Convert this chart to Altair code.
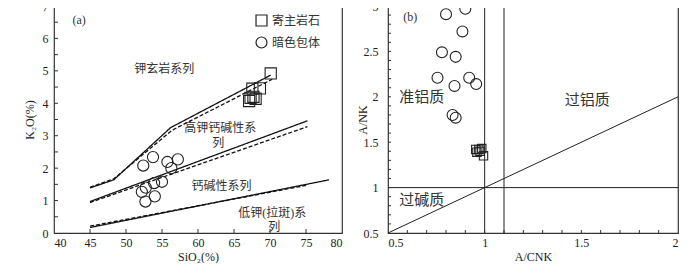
import altair as alt
import pandas as pd

FONT = "Liberation Serif, Noto Sans CJK SC"

# ---------------- Panel (a) data ----------------
host_sio2 = [70.1, 67.55, 68.6, 67.3, 68.0, 67.1, 67.7]
host_k2o = [4.92, 4.45, 4.46, 4.17, 4.14, 4.07, 4.2]
encl_sio2 = [52.4, 53.75, 55.75, 57.2, 56.3, 52.75, 53.9, 55.0, 52.2, 52.7, 54.0]
encl_k2o = [2.08, 2.34, 2.19, 2.27, 2.0, 1.40, 1.54, 1.58, 1.27, 0.97, 1.13]

line_id = ["s1", "s1", "s1", "s1", "s2", "s2", "s3", "s3",
           "d1", "d1", "d1", "d1", "d2", "d2", "d3", "d3"]
line_style = ["solid"] * 8 + ["dash"] * 8
line_x = [45, 48.3, 56.2, 70.1, 45, 75.2, 45, 78.2,
          45, 48.3, 56.4, 70.3, 45, 75.2, 45, 75.3]
line_y = [1.39, 1.64, 3.25, 4.87, 0.97, 3.46, 0.17, 1.64,
          1.41, 1.67, 3.17, 4.74, 0.94, 3.28, 0.21, 1.48]

a_label_text = ["(a)", "钾玄岩系列", "高钾钙碱性系", "列", "钙碱性系列", "低钾(拉斑)系", "列"]
a_label_x = [43.5, 55.3, 63.1, 62.8, 63.25, 70.3, 70.6]
a_label_y = [6.56, 5.05, 3.25, 2.79, 1.46, 0.62, 0.17]

a_xticks = [40, 45, 50, 55, 60, 65, 70, 75, 80]
a_yticks = [0, 1, 2, 3, 4, 5, 6, 7]
a_yminor = [0.5, 1.5, 2.5, 3.5, 4.5, 5.5, 6.5]

# ---------------- Panel (b) data ----------------
b_host_x = [0.954, 0.985, 0.96, 0.976, 0.994, 0.97]
b_host_y = [1.42, 1.43, 1.39, 1.40, 1.35, 1.42]
b_encl_x = [0.80, 0.90, 0.885, 0.779, 0.85, 0.756, 0.92, 0.956, 0.844, 0.834, 0.85]
b_encl_y = [2.91, 2.97, 2.72, 2.49, 2.44, 2.21, 2.21, 2.14, 2.12, 1.80, 1.77]

b_label_text = ["(b)", "准铝质", "过铝质", "过碱质"]
b_label_x = [0.615, 0.675, 1.53, 0.675]
b_label_y = [2.88, 2.0, 1.96, 0.86]
b_label_size = [12, 15, 15, 15]

b_vlines = [1.0, 1.1]
b_hlines = [1.0]
b_diag_x = [0.5, 2.0]
b_diag_y = [0.5, 2.0]

b_xticks = [0.5, 1.0, 1.5, 2.0]
b_yticks = [0.5, 1.0, 1.5, 2.0, 2.5, 3.0]
b_xminor = [round(0.5 + 0.1 * i, 2) for i in range(16)]
b_yminor = [round(0.5 + 0.1 * i, 2) for i in range(26)]

groups = ["寄主岩石", "暗色包体"]
shapes = ["square", "circle"]

W_A, H_A = 288, 227
W_B, H_B = 290, 227

AX = dict(domain=False, ticks=False, grid=False, labelOverlap=False,
          labelFont=FONT, labelFontSize=12, labelColor="#222",
          titleFont=FONT, titleFontSize=12, titleFontWeight="normal", titleColor="#222")

# ---------------- Panel (a) ----------------
xa = alt.X("x:Q", scale=alt.Scale(domain=[40, 80], nice=False, zero=False),
           axis=alt.Axis(values=a_xticks, title="SiO₂(%)", format="d", labelPadding=4, titlePadding=3, **AX))
ya = alt.Y("y:Q", scale=alt.Scale(domain=[0, 7], nice=False, zero=False),
           axis=alt.Axis(values=a_yticks, title="K₂O(%)", format="d", labelPadding=6,
                         titleX=-24.5, titleBaseline="middle", **AX))

pts_a = pd.DataFrame({
    "x": host_sio2 + encl_sio2,
    "y": host_k2o + encl_k2o,
    "g": [groups[0]] * len(host_sio2) + [groups[1]] * len(encl_sio2),
})
lines_a = pd.DataFrame({"x": line_x, "y": line_y, "id": line_id, "style": line_style})
labels_a = pd.DataFrame({"x": a_label_x, "y": a_label_y, "t": a_label_text})

a_lines = alt.Chart(lines_a).mark_line(color="#111", strokeWidth=1.3).encode(
    x=xa, y=ya, detail="id:N",
    strokeDash=alt.StrokeDash("style:N", scale=alt.Scale(domain=["solid", "dash"], range=[[1, 0], [4, 2]]), legend=None),
    order="x:Q",
)
a_pts = alt.Chart(pts_a).mark_point(filled=False, stroke="#222", strokeWidth=1.1, size=125, opacity=1).encode(
    x=xa, y=ya,
    shape=alt.Shape("g:N", scale=alt.Scale(domain=groups, range=shapes),
                    legend=alt.Legend(title=None, orient="none", legendX=201, legendY=8,
                                      symbolSize=120, symbolStrokeColor="#222", symbolFillColor="transparent",
                                      symbolStrokeWidth=1.2, labelFont=FONT, labelFontSize=12,
                                      labelColor="#333", rowPadding=5, labelOffset=4)),
)
a_text = alt.Chart(labels_a).mark_text(font=FONT, fontSize=12, color="#333").encode(
    x=xa, y=ya, text="t:N")
a_yt = alt.Chart(pd.DataFrame({"y": a_yticks[1:-1] + a_yminor})).mark_rule(color="#333").encode(
    y=ya, x=alt.value(0), x2=alt.value(4))
a_xt = alt.Chart(pd.DataFrame({"x": a_xticks[1:-1]})).mark_rule(color="#333").encode(
    x=xa, y=alt.value(H_A), y2=alt.value(H_A - 4))

panel_a = alt.layer(a_lines, a_yt, a_xt, a_text, a_pts).properties(width=W_A, height=H_A)

# ---------------- Panel (b) ----------------
xb = alt.X("x:Q", scale=alt.Scale(domain=[0.5, 2.0], nice=False, zero=False),
           axis=alt.Axis(values=b_xticks, title="A/CNK", format=".1~f", labelPadding=4, titlePadding=3, **AX))
yb = alt.Y("y:Q", scale=alt.Scale(domain=[0.5, 3.0], nice=False, zero=False),
           axis=alt.Axis(values=b_yticks, title="A/NK", format=".1~f", labelPadding=10,
                         titleX=-26, titleBaseline="middle", **AX))

pts_b = pd.DataFrame({
    "x": b_host_x + b_encl_x,
    "y": b_host_y + b_encl_y,
    "g": [groups[0]] * len(b_host_x) + [groups[1]] * len(b_encl_x),
})
b_diag = alt.Chart(pd.DataFrame({"x": b_diag_x, "y": b_diag_y})).mark_line(color="#222", strokeWidth=1).encode(x=xb, y=yb)
b_v = alt.Chart(pd.DataFrame({"x": b_vlines})).mark_rule(color="#222", strokeWidth=1).encode(x=xb)
b_h = alt.Chart(pd.DataFrame({"y": b_hlines})).mark_rule(color="#222", strokeWidth=1).encode(y=yb)
b_circ = alt.Chart(pts_b[pts_b.g == groups[1]]).mark_point(filled=False, stroke="#222", strokeWidth=1.1, size=120, opacity=1).encode(
    x=xb, y=yb,
    shape=alt.Shape("g:N", scale=alt.Scale(domain=groups, range=shapes), legend=None))
b_sq = alt.Chart(pts_b[pts_b.g == groups[0]]).mark_point(filled=False, stroke="#222", strokeWidth=1.1, size=70, opacity=1).encode(
    x=xb, y=yb,
    shape=alt.Shape("g:N", scale=alt.Scale(domain=groups, range=shapes), legend=None))
b_text = alt.Chart(pd.DataFrame({"x": b_label_x, "y": b_label_y, "t": b_label_text, "s": b_label_size})).mark_text(
    font=FONT, color="#333").encode(x=xb, y=yb, text="t:N", size=alt.Size("s:Q", scale=None, legend=None))
b_yt = alt.Chart(pd.DataFrame({"y": b_yminor[1:-1]})).mark_rule(color="#333").encode(
    y=yb, x=alt.value(0), x2=alt.value(3))
b_xt = alt.Chart(pd.DataFrame({"x": b_xminor[1:-1]})).mark_rule(color="#333").encode(
    x=xb, y=alt.value(H_B), y2=alt.value(H_B - 3))

panel_b = alt.layer(b_diag, b_v, b_h, b_yt, b_xt, b_text, b_circ, b_sq).properties(width=W_B, height=H_B)

chart = alt.hconcat(panel_a, panel_b, spacing=12).resolve_scale(shape="independent").properties(
    padding={"left": 14, "top": -9, "right": 0, "bottom": 0},
    background="white",
).configure_view(stroke="#333", strokeWidth=1.2)

chart.save("out.html", embed_options={"renderer": "svg", "actions": False})
